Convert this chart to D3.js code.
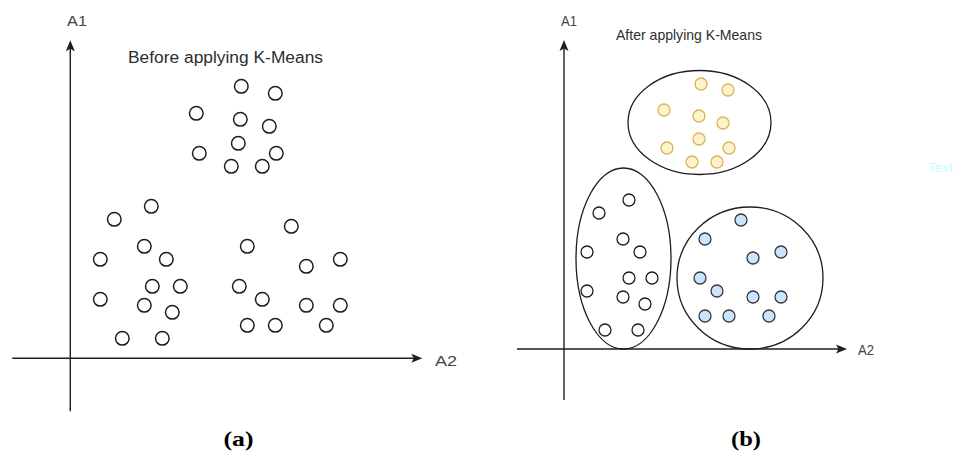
<!DOCTYPE html>
<html>
<head>
<meta charset="utf-8">
<script src="https://cdn.jsdelivr.net/npm/d3@7"></script>
<style>
  html, body { margin: 0; padding: 0; background: #fff; }
  svg { display: block; }
</style>
</head>
<body>
<svg id="chart" width="958" height="452"></svg>
<script>
// ---- Panel (a): raw observations, (A2, A1) ----
const rawA2 = [17.1, 20.5, 12.6, 17.0, 19.9, 16.8, 12.9, 20.6, 16.1, 19.2,
               8.1, 4.4, 7.4, 3.0, 9.6, 8.2, 11.0, 3.0, 7.4, 10.2, 5.2, 9.2,
               22.1, 17.7, 23.6, 27.0, 16.9, 19.2, 23.6, 27.0, 17.7, 20.5, 25.6];
const rawA1 = [27.2, 26.5, 24.5, 23.9, 23.2, 21.5, 20.5, 20.5, 19.2, 19.2,
               15.2, 13.9, 11.2, 9.9, 9.9, 7.2, 7.2, 5.9, 5.3, 4.6, 2.0, 2.0,
               13.2, 11.2, 9.2, 9.9, 7.2, 5.9, 5.3, 5.3, 3.3, 3.3, 3.3];

// ---- Panel (b): clustered observations ----
const clusterNames = ["yellow", "white", "blue"];
const yellowA2 = [13.7, 16.4, 10.0, 13.5, 15.9, 13.5, 10.3, 16.5, 12.8, 15.3];
const yellowA1 = [26.5, 25.9, 23.9, 23.3, 22.6, 21.0, 20.1, 20.1, 18.7, 18.7];
const whiteA2 = [6.5, 3.5, 5.9, 2.3, 7.6, 6.5, 8.8, 2.3, 5.9, 8.1, 4.1, 7.4];
const whiteA1 = [14.9, 13.6, 11.0, 9.7, 9.7, 7.1, 7.1, 5.8, 5.2, 4.5, 1.9, 1.9];
const blueA2 = [17.7, 14.1, 18.9, 21.7, 13.6, 15.3, 18.9, 21.7, 14.1, 16.5, 20.5];
const blueA1 = [12.9, 11.0, 9.1, 9.7, 7.1, 5.8, 5.2, 5.2, 3.3, 3.3, 3.3];
// cluster boundaries: centre (A2, A1) and half-extents
const boundCx = [13.55, 5.95, 18.6];
const boundCy = [22.65, 9.05, 7.1];
const boundRx = [7.15, 4.75, 7.3];
const boundRy = [5.2, 9.05, 7.1];

const svg = d3.select("#chart");
const ink = "#1e1e1e";

function arrowHead(g, tip, dir) {
  // dir: "right" or "up"
  const [x, y] = tip;
  const pts = dir === "right"
    ? [[x, y], [x - 11, y - 4.5], [x - 8.5, y], [x - 11, y + 4.5]]
    : [[x, y], [x - 4.5, y + 11], [x, y + 8.5], [x + 4.5, y + 11]];
  g.append("path").attr("d", d3.line()(pts) + "Z").attr("fill", ink);
}

function drawAxes(g, x, y, xExt, yExt) {
  g.append("line")
    .attr("x1", x(xExt[0])).attr("x2", x(xExt[1]) - 8)
    .attr("y1", y(0)).attr("y2", y(0))
    .attr("stroke", ink).attr("stroke-width", 1.4);
  g.append("line")
    .attr("x1", x(0)).attr("x2", x(0))
    .attr("y1", y(yExt[0])).attr("y2", y(yExt[1]) + 8)
    .attr("stroke", ink).attr("stroke-width", 1.4);
  arrowHead(g, [x(xExt[1]), y(0)], "right");
  arrowHead(g, [x(0), y(yExt[1])], "up");
}

function label(g, txt, px, py, opts) {
  const t = g.append("text").attr("x", px).attr("y", py).text(txt)
    .attr("font-family", opts.family || "'Liberation Sans', Arial, sans-serif")
    .attr("font-size", opts.size)
    .attr("fill", opts.fill || "#333");
  if (opts.weight) t.attr("font-weight", opts.weight);
  if (opts.anchor) t.attr("text-anchor", opts.anchor);
  if (opts.len) t.attr("textLength", opts.len).attr("lengthAdjust", "spacingAndGlyphs");
  return t;
}

// ---------- Panel (a) ----------
{
  const x = d3.scaleLinear().domain([0, 1]).range([70.3, 80.3]);
  const y = d3.scaleLinear().domain([0, 1]).range([358.3, 348.3]);
  const g = svg.append("g");
  drawAxes(g, x, y, [-5.8, 35.2], [-5.3, 31.8]);

  g.selectAll("circle.pt").data(d3.range(rawA2.length)).join("circle")
    .attr("class", "pt")
    .attr("cx", i => x(rawA2[i])).attr("cy", i => y(rawA1[i]))
    .attr("r", 6.8)
    .attr("fill", "#fff").attr("stroke", ink).attr("stroke-width", 1.5);

  label(g, "Before applying K-Means", 128, 63, {size: 16, len: 195, fill: "#2e2e2e"});
  label(g, "A1", 67, 26, {size: 14.5, len: 20, fill: "#444"});
  label(g, "A2", 435, 365.5, {size: 15, len: 22, fill: "#444"});
  label(g, "(a)", 238.5, 446, {size: 22, weight: "bold", anchor: "middle", len: 30,
        family: "'Liberation Serif', 'Times New Roman', serif", fill: "#000"});
}

// ---------- Panel (b) ----------
{
  const x = d3.scaleLinear().domain([0, 1]).range([564, 574]);
  const y = d3.scaleLinear().domain([0, 1]).range([349, 339]);
  const g = svg.append("g");
  drawAxes(g, x, y, [-4.7, 28.3], [-5.1, 30.9]);

  // cluster boundaries
  g.selectAll("ellipse").data(d3.range(clusterNames.length)).join("ellipse")
    .attr("cx", i => x(boundCx[i])).attr("cy", i => y(boundCy[i]))
    .attr("rx", i => x(boundRx[i]) - x(0)).attr("ry", i => y(0) - y(boundRy[i]))
    .attr("fill", "none").attr("stroke", ink).attr("stroke-width", 1.3);

  const clusters = [
    {a2: yellowA2, a1: yellowA1, fill: "#fff2cc", stroke: "#d6b656"},
    {a2: whiteA2, a1: whiteA1, fill: "#ffffff", stroke: ink},
    {a2: blueA2, a1: blueA1, fill: "#cce5ff", stroke: "#36393d"}
  ];
  clusters.forEach((c, k) => {
    g.selectAll("circle.c" + k).data(d3.range(c.a2.length)).join("circle")
      .attr("class", "c" + k)
      .attr("cx", i => x(c.a2[i])).attr("cy", i => y(c.a1[i]))
      .attr("r", 6)
      .attr("fill", c.fill).attr("stroke", c.stroke).attr("stroke-width", 1.3);
  });

  label(g, "After applying K-Means", 616, 39.5, {size: 14.5, len: 146, fill: "#2e2e2e"});
  label(g, "A1", 561, 26, {size: 14, len: 16, fill: "#444"});
  label(g, "A2", 858, 354.5, {size: 14.5, len: 16, fill: "#444"});
  label(g, "(b)", 746, 446, {size: 22, weight: "bold", anchor: "middle", len: 30,
        family: "'Liberation Serif', 'Times New Roman', serif", fill: "#000"});
  label(g, "Text", 928, 172, {size: 13, len: 25, fill: "#c4fbff"});
}
</script>
</body>
</html>
